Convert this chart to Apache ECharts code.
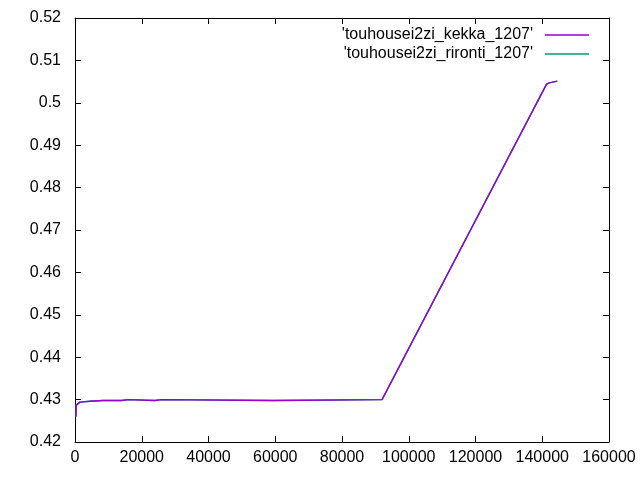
<!DOCTYPE html>
<html>
<head>
<meta charset="utf-8">
<script src="https://cdn.jsdelivr.net/npm/echarts@6/dist/echarts.min.js"></script>
<style>html,body{margin:0;padding:0;background:#fff}#c{width:640px;height:480px}</style>
</head>
<body>
<div id="c"></div>
<script>
var seriesNames = ["'touhousei2zi_kekka_1207'", "'touhousei2zi_rironti_1207'"];
var kekkaX = [300, 350, 1500, 4500, 8400, 13900, 14000, 16000, 16100, 23900, 24000, 26000, 26100, 59400, 59500, 92000, 141300, 142100, 144500];
var kekkaY = [0.4260, 0.4287, 0.4294, 0.4296, 0.4298, 0.4298, 0.4300, 0.4300, 0.4298, 0.4298, 0.4300, 0.4300, 0.4298, 0.4298, 0.4300, 0.4300, 0.5044, 0.5047, 0.5051];
var rirontiX = [300, 350, 1500, 4500, 8400, 13900, 14000, 16000, 16100, 23900, 24000, 26000, 26100, 59400, 59500, 92000, 141300, 142100, 144500];
var rirontiY = [0.4260, 0.4287, 0.4294, 0.4296, 0.4298, 0.4298, 0.4300, 0.4300, 0.4298, 0.4298, 0.4300, 0.4300, 0.4298, 0.4298, 0.4300, 0.4300, 0.5044, 0.5047, 0.5051];
var xMin = 0, xMax = 160000, xStep = 20000;
var yMin = 0.42, yMax = 0.52, yStep = 0.01;
var colors = ['#9400d3', '#009e73'];

function pairs(xs, ys) { return xs.map(function (x, i) { return [x, ys[i]]; }); }
var FONT = 'Liberation Sans';
var chart = echarts.init(document.getElementById('c'), null, {renderer: 'canvas'});
function xa(pos, show) {
  return {
    type: 'value', position: pos, min: xMin, max: xMax, interval: xStep,
    axisLine: {show: true, onZero: false, lineStyle: {color: '#000', width: 1}},
    axisTick: {show: true, inside: true, length: 6, lineStyle: {color: '#000'}},
    axisLabel: {show: show, color: '#000', fontFamily: FONT, fontSize: 16, margin: 8,
      formatter: function (v) { return String(Math.round(v)); }},
    splitLine: {show: false}
  };
}
function ya(pos, show) {
  return {
    type: 'value', position: pos, min: yMin, max: yMax, interval: yStep,
    axisLine: {show: true, onZero: false, lineStyle: {color: '#000', width: 1}},
    axisTick: {show: true, inside: true, length: 6, lineStyle: {color: '#000'}},
    axisLabel: {show: show, color: '#000', fontFamily: FONT, fontSize: 16, margin: 14,
      formatter: function (v) { return String(parseFloat(v.toFixed(2))); }},
    splitLine: {show: false}
  };
}
function leg(name, top) {
  return {
    data: [name], right: 46, top: top, orient: 'horizontal', align: 'right',
    icon: 'rect', itemWidth: 44, itemHeight: 1.5, selectedMode: false,
    textStyle: {color: '#000', fontFamily: FONT, fontSize: 16, lineHeight: 16, padding: [0, 7, 0, 0]}
  };
}
chart.setOption({
  animation: false,
  backgroundColor: '#fff',
  grid: {left: 75, right: 31, top: 18, bottom: 38, containLabel: false},
  xAxis: [xa('bottom', true), xa('top', false)],
  yAxis: [ya('left', true), ya('right', false)],
  legend: [leg(seriesNames[0], 22), leg(seriesNames[1], 41)],
  series: [
    {name: seriesNames[1], type: 'line', data: pairs(rirontiX, rirontiY), showSymbol: false, symbol: 'none',
      color: colors[1], lineStyle: {width: 1.4, color: colors[1]}, z: 2},
    {name: seriesNames[0], type: 'line', data: pairs(kekkaX, kekkaY), showSymbol: false, symbol: 'none',
      color: colors[0], lineStyle: {width: 1.4, color: colors[0]}, z: 3}
  ]
});
</script>
</body>
</html>
